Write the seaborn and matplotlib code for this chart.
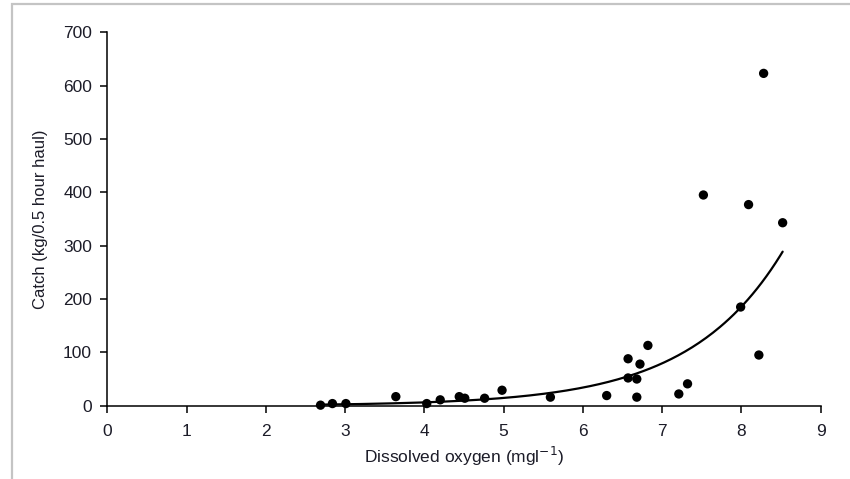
import numpy as np
import pandas as pd
import matplotlib
matplotlib.use("Agg")
import matplotlib.pyplot as plt
import seaborn as sns
from matplotlib.patches import Rectangle

# Data
oxygen = [2.69, 2.84, 3.01, 3.64, 4.03, 4.20, 4.44, 4.51, 4.76, 4.98, 5.59,
          6.30, 6.57, 6.57, 6.68, 6.68, 6.72, 6.82, 7.21, 7.32, 7.52, 7.99,
          8.09, 8.22, 8.28, 8.52]
catch = [1, 4, 4, 17, 4, 11, 17, 14, 14, 29, 16,
         19, 88, 52, 16, 50, 78, 113, 22, 41, 395, 185,
         377, 95, 623, 343]

# exponential trendline y = a * exp(b * x)
fit_a = 0.2085
fit_b = 0.849

x_ticks = [0, 1, 2, 3, 4, 5, 6, 7, 8, 9]
y_ticks = [0, 100, 200, 300, 400, 500, 600, 700]

df = pd.DataFrame({"oxygen": oxygen, "catch": catch})
xs = np.linspace(min(oxygen), max(oxygen), 200)
trend = pd.DataFrame({"oxygen": xs, "catch": fit_a * np.exp(fit_b * xs)})

sns.set_style("ticks")
plt.rcParams["font.family"] = ["Liberation Sans", "DejaVu Sans"]

fig = plt.figure(figsize=(8.5, 4.79), dpi=100)
ax = fig.add_axes([107.3 / 850, 1 - 405.7 / 479, 713.4 / 850, 373.4 / 479])

# light grey frame around the chart
fig.add_artist(Rectangle((12 / 850, -0.5), 1.0, 1 - 4.3 / 479 + 0.5,
                         transform=fig.transFigure, fill=False,
                         edgecolor="#c4c4c4", linewidth=1.6))

sns.lineplot(data=trend, x="oxygen", y="catch", color="black", linewidth=1.6, ax=ax)
sns.scatterplot(data=df, x="oxygen", y="catch", color="black", s=45,
                edgecolor="none", ax=ax, zorder=3, clip_on=False)

ax.set_xlim(0, 9)
ax.set_ylim(0, 700)
ax.set_xticks(x_ticks)
ax.set_yticks(y_ticks)
sns.despine(ax=ax)
for side in ["left", "bottom"]:
    ax.spines[side].set_linewidth(1.1)
    ax.spines[side].set_color("black")

ax.tick_params(axis="both", direction="out", length=4.7, width=1.1,
               color="black", labelsize=12.5, labelcolor="#1c1c28")
ax.tick_params(axis="x", pad=8.3)
ax.tick_params(axis="y", pad=6.3)

ax.set_xlabel("Dissolved oxygen (mgl$^{-1}$)", fontsize=12.5, color="#1c1c28")
ax.set_ylabel("Catch (kg/0.5 hour haul)", fontsize=12, color="#1c1c28")
ax.xaxis.set_label_coords(0.5, -0.135)
ax.xaxis.label.set_va("center")
ax.yaxis.set_label_coords(-0.0934, 0.5)
ax.yaxis.label.set_va("center")

fig.savefig("out.png", dpi=100)
